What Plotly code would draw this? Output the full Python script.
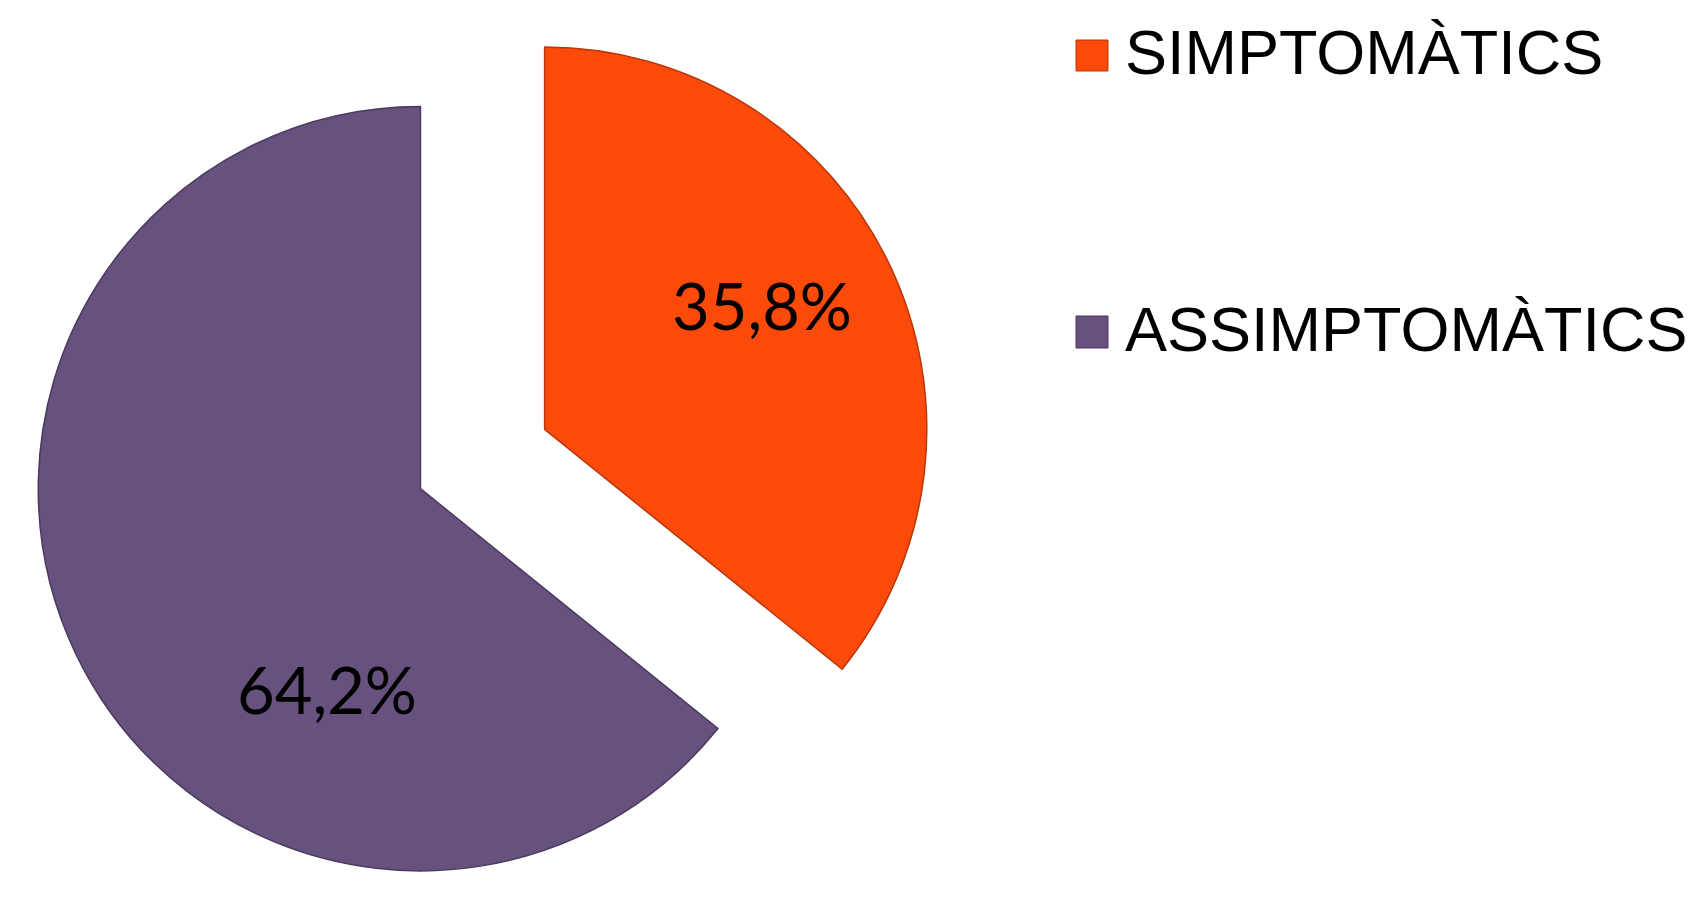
import plotly.graph_objects as go

categories = ["SIMPTOMÀTICS", "ASSIMPTOMÀTICS"]
values = [35.8, 64.2]
colors = ["#FC4A0A", "#67517F"]
edge_colors = ["#B8360A", "#4A3A5E"]

W, H = 1703, 902

total = sum(values)
pct_labels = [f"{100 * v / total:.1f}%".replace(".", ",") for v in values]

fig = go.Figure()
fig.add_trace(go.Pie(
    labels=categories,
    values=values,
    sort=False,
    direction="clockwise",
    rotation=0,
    pull=[0.18, 0.18],
    marker=dict(colors=colors, line=dict(color=edge_colors, width=1.5)),
    textinfo="none",
    domain=dict(x=[0.0138, 0.5435], y=[0.0, 1.0]),
    showlegend=False,
    hovertemplate="%{label}: %{percent:.1%}<extra></extra>",
))

# Percentage labels inside the slices
label_pos = [(753.5, 297), (318.5, 681)]
for txt, (px, py) in zip(pct_labels, label_pos):
    fig.add_annotation(xref="paper", yref="paper", x=px / W, y=1 - py / H,
                       xanchor="center", yanchor="middle", showarrow=False,
                       text=txt, font=dict(family="Lato, Carlito, sans-serif",
                                           size=65, color="black"))

# Legend (drawn as shapes + text to match the reference layout)
leg_x_sym0, leg_x_sym1 = 1068 / W, 1100 / W
leg_x_text = 1115 / W
sym_rows = [(32, 63), (308, 340)]
text_rows = [44.2, 320.5]
for cat, col, ecol, (t, b), ty in zip(categories, colors, edge_colors, sym_rows, text_rows):
    fig.add_shape(type="rect", xref="paper", yref="paper",
                  x0=leg_x_sym0, x1=leg_x_sym1, y0=1 - b / H, y1=1 - t / H,
                  fillcolor=col, line=dict(color=ecol, width=1))
    fig.add_annotation(xref="paper", yref="paper", x=leg_x_text, y=1 - ty / H,
                       xanchor="left", yanchor="middle", showarrow=False,
                       text=cat, font=dict(family="Liberation Sans, Arial, sans-serif",
                                           size=63, color="black"))

fig.update_layout(
    width=W, height=H,
    margin=dict(l=0, r=0, t=0, b=0),
    paper_bgcolor="white", plot_bgcolor="white",
    separators=",.",
)

fig.write_html("out.html")
